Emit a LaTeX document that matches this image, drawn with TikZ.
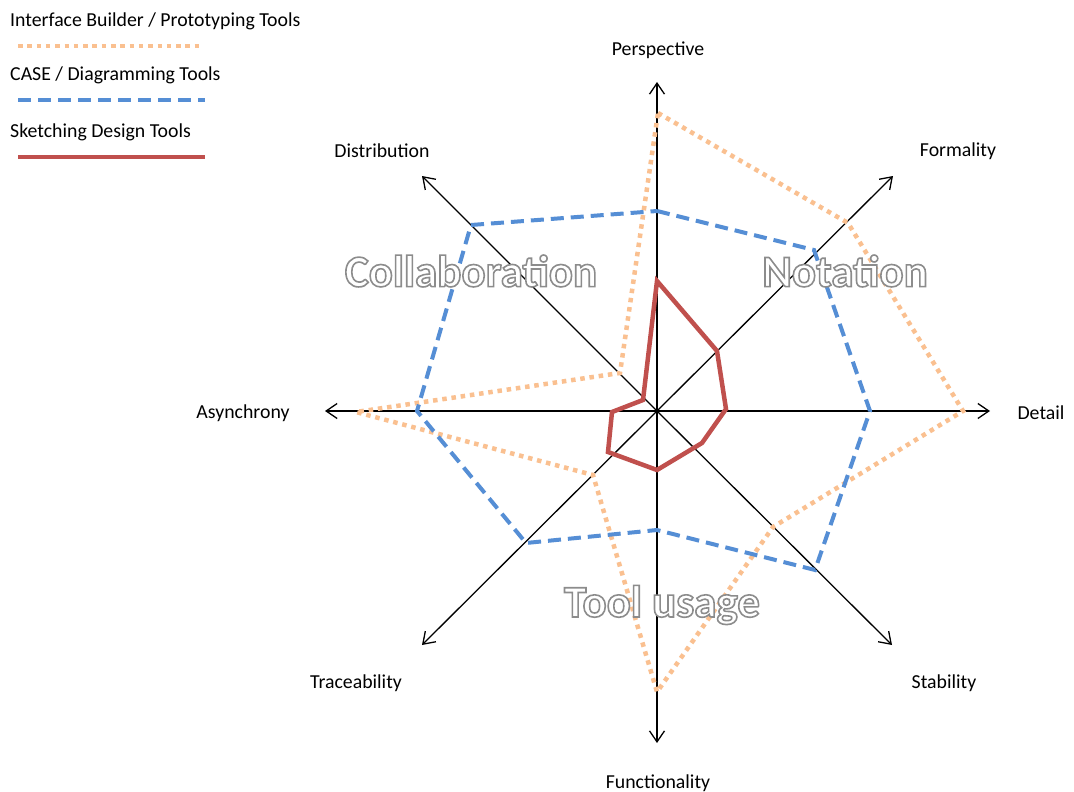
\documentclass[tikz,border=0pt]{standalone}
\usepackage{fontspec}
\setmainfont{Carlito}
\usetikzlibrary{arrows.meta}
\definecolor{protoOrange}{RGB}{250,192,144}
\definecolor{caseBlue}{RGB}{85,142,213}
\definecolor{sketchRed}{RGB}{192,80,77}
\tikzset{
  axis/.style={line width=1.3pt, -{Straight Barb[length=11pt,width=15pt,line width=1.3pt]}},
  lbl/.style={font=\fontsize{19.8}{22}\selectfont, inner sep=0pt},
  legendtxt/.style={lbl, anchor=west},
  proto/.style={protoOrange, line width=4.5pt, dash pattern=on 4.5pt off 4.8pt, line join=miter},
  casetool/.style={caseBlue, line width=4pt, dash pattern=on 13pt off 7pt, line join=miter},
  sketch/.style={sketchRed, line width=4.5pt, line join=miter},
  bigword/.style={inner sep=0pt, font=\fontsize{45}{50}\selectfont\bfseries}
}
% white letters with a grey outline (fill-then-stroke text rendering)
\newcommand{\outlineword}[1]{%
  {\color{white}\special{pdf:literal direct 2 Tr 1.6 w 0.55 G}#1\special{pdf:literal direct 0 Tr}}}
\begin{document}
\begin{tikzpicture}[x=1pt,y=-1pt]
\useasboundingbox (0,0) rectangle (1074,792);
\fill[white] (0,0) rectangle (1074,792);

% centre and axis tips
\coordinate (O) at (657,411);
\coordinate (tPer) at (657,82);
\coordinate (tFor) at (893,176);
\coordinate (tDet) at (990,411);
\coordinate (tSta) at (892,645);
\coordinate (tFun) at (657,743);
\coordinate (tTra) at (422,645);
\coordinate (tAsy) at (325,411);
\coordinate (tDis) at (422,176);

% axis labels
\node[lbl] (lPer) at (658,50) {Perspective};
\node[lbl] (lFor) at (958,151) {Formality};
\node[lbl] (lDet) at (1041,413) {Detail};
\node[lbl] (lSta) at (944,683) {Stability};
\node[lbl] (lFun) at (658,783) {Functionality};
\node[lbl] (lTra) at (356,683) {Traceability};
\node[lbl] (lAsy) at (243,413) {Asynchrony};
\node[lbl] (lDis) at (382,151) {Distribution};

% eight axes
\foreach \t in {tPer,tFor,tDet,tSta,tFun,tTra,tAsy,tDis}
  \draw[axis] (O) -- (\t);

% interface builder / prototyping tools
\coordinate (p1) at (658,113);
\coordinate (p2) at (848,223);
\coordinate (p3) at (963,411);
\coordinate (p4) at (773,527);
\coordinate (p5) at (657,692);
\coordinate (p6) at (593,475);
\coordinate (p7) at (356,412);
\coordinate (p8) at (620,373);
\draw[proto] (p1) -- (p2) -- (p3) -- (p4) -- (p5) -- (p6) -- (p7) -- (p8) -- cycle;

% CASE / diagramming tools
\coordinate (c1) at (657,211);
\coordinate (c2) at (814,250);
\coordinate (c3) at (870,411);
\coordinate (c4) at (815,570);
\coordinate (c5) at (657,530);
\coordinate (c6) at (526,543);
\coordinate (c7) at (417,411);
\coordinate (c8) at (471,225);
\draw[casetool] (c1) -- (c2) -- (c3) -- (c4) -- (c5) -- (c6) -- (c7) -- (c8) -- cycle;

% sketching design tools
\coordinate (s1) at (657,281);
\coordinate (s2) at (717,351);
\coordinate (s3) at (726,409);
\coordinate (s4) at (702,443);
\coordinate (s5) at (657,470);
\coordinate (s6) at (608,452);
\coordinate (s7) at (612,412);
\coordinate (s8) at (643,400);
\draw[sketch] (s1) -- (s2) -- (s3) -- (s4) -- (s5) -- (s6) -- (s7) -- (s8) -- cycle;

% category words
\node[bigword] (wCol) at (471,271) {\outlineword{Collaboration}};
\node[bigword] (wNot) at (845,271) {\outlineword{Notation}};
\node[bigword] (wToo) at (662,605) {\outlineword{Tool usage}};

% legend
\node[legendtxt] (g1) at (10,21) {Interface Builder / Prototyping Tools};
\coordinate (g1a) at (18,46); \coordinate (g1b) at (200,46);
\draw[proto] (g1a) -- (g1b);
\node[legendtxt] (g2) at (10,75) {CASE / Diagramming Tools};
\coordinate (g2a) at (18,100); \coordinate (g2b) at (205,100);
\draw[casetool] (g2a) -- (g2b);
\node[legendtxt] (g3) at (10,132) {Sketching Design Tools};
\coordinate (g3a) at (18,157); \coordinate (g3b) at (205,157);
\draw[sketch] (g3a) -- (g3b);
\end{tikzpicture}
\end{document}
